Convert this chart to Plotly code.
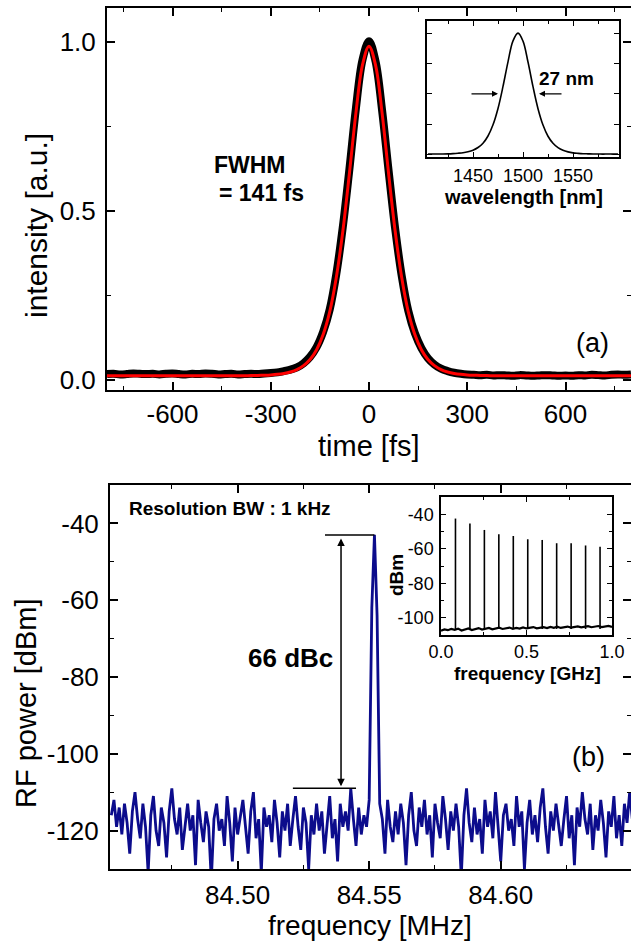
import plotly.graph_objects as go

# ---------------- data: panel (a) ----------------
time_fs = list(range(-800, 801, 20))
ac_measured = [0.017, 0.018, 0.016, 0.017, 0.019, 0.018, 0.017, 0.018, 0.016, 0.018,
               0.019, 0.017, 0.016, 0.018, 0.017, 0.019, 0.018, 0.016, 0.017, 0.018,
               0.016, 0.017, 0.018, 0.017, 0.019, 0.020, 0.022, 0.026, 0.030, 0.037,
               0.049, 0.068, 0.097, 0.142, 0.208, 0.312, 0.452, 0.622, 0.803, 0.946,
               1.002,
               0.942, 0.797, 0.617, 0.446, 0.307, 0.204, 0.138, 0.094, 0.064, 0.045,
               0.033, 0.026, 0.021, 0.018, 0.016, 0.015, 0.014, 0.015, 0.013, 0.014,
               0.013, 0.012, 0.014, 0.013, 0.012, 0.013, 0.014, 0.013, 0.012, 0.013,
               0.012, 0.014, 0.013, 0.015, 0.014, 0.013, 0.015, 0.016, 0.015, 0.016]
ac_fit = [0.012, 0.012, 0.012, 0.012, 0.012, 0.012, 0.012, 0.012, 0.012, 0.012,
          0.012, 0.012, 0.012, 0.012, 0.012, 0.012, 0.012, 0.012, 0.012, 0.012,
          0.012, 0.0124, 0.0126, 0.013, 0.0137, 0.0147, 0.0163, 0.019, 0.0234, 0.0304,
          0.042, 0.060, 0.089, 0.134, 0.201, 0.302, 0.439, 0.609, 0.789, 0.931,
          0.987,
          0.931, 0.789, 0.609, 0.439, 0.302, 0.201, 0.134, 0.089, 0.060, 0.042,
          0.0304, 0.0234, 0.019, 0.0163, 0.0147, 0.0137, 0.013, 0.0126, 0.0124, 0.012,
          0.012, 0.012, 0.012, 0.012, 0.012, 0.012, 0.012, 0.012, 0.012, 0.012,
          0.012, 0.012, 0.012, 0.012, 0.012, 0.012, 0.012, 0.012, 0.012, 0.012]

wavelength_nm = list(range(1405, 1596, 5))
spectrum = [0.004, 0.0045, 0.005, 0.005, 0.006, 0.008, 0.011, 0.015, 0.023, 0.036,
            0.058, 0.094, 0.153, 0.245, 0.380, 0.561, 0.764, 0.936, 1.000, 0.934,
            0.762, 0.559, 0.378, 0.243, 0.151, 0.093, 0.057, 0.035, 0.022, 0.014,
            0.010, 0.007, 0.006, 0.005, 0.005, 0.004, 0.005, 0.004, 0.004]

# tick values / labels, panel (a)
time_ticks = [-600, -300, 0, 300, 600]
time_ticktext = ["-600", "-300", "0", "300", "600"]
time_minor = [-750, -450, -150, 150, 450, 750]
int_ticks = [0.0, 0.5, 1.0]
int_ticktext = ["0.0", "0.5", "1.0"]
int_minor = [0.25, 0.75]
wl_ticks = [1450, 1500, 1550]
wl_ticktext = ["1450", "1500", "1550"]
wl_minor = [1425, 1475, 1525, 1575]
spec_ticks = [0.0, 0.25, 0.5, 0.75, 1.0]

# ---------------- data: panel (b) ----------------
freq_start_mhz = 84.452
freq_step_mhz = 0.001
rf_power_dbm = [
    -116, -112, -119, -114, -121, -113, -118, -126, -115, -110,
    -117, -122, -113, -119, -131, -116, -111, -120, -124, -114,
    -118, -127, -115, -109, -117, -121, -114, -125, -119, -113,
    -120, -116, -129, -112, -118, -123, -115, -119, -133, -117,
    -113, -120, -117, -124, -111, -118, -128, -114, -121, -116,
    -112, -119, -126, -115, -110, -122, -117, -131, -114, -119,
    -116, -123, -112, -118, -127, -115, -120, -113, -124, -117,
    -111, -119, -125, -114, -118, -130, -116, -121, -113, -120,
    -115, -126, -118, -111, -122, -117, -128, -113, -119, -115,
    -120, -109, -117, -124, -114, -121, -116, -119, -112, -62,
    -43, -64, -113, -117, -126, -112, -119, -123, -115, -121,
    -113, -118, -129, -116, -110, -120, -124, -114, -119, -112,
    -121, -116, -127, -113, -118, -122, -111, -117, -125, -115,
    -120, -113, -119, -132, -116, -109, -118, -123, -114, -121,
    -117, -126, -112, -119, -115, -122, -110, -118, -128, -116,
    -113, -120, -117, -124, -111, -119, -115, -130, -118, -112,
    -121, -116, -123, -114, -109, -119, -126, -115, -120, -113,
    -118, -124, -117, -111, -122, -116, -129, -114, -119, -110,
    -117, -121, -113, -125, -116, -120, -112, -118, -127, -115,
    -119, -111, -122, -116, -124, -113, -118, -110, -117]
freq_mhz = [round(freq_start_mhz + freq_step_mhz * i, 4) for i in range(len(rf_power_dbm))]

harmonic_ghz = [0.0846, 0.1691, 0.2537, 0.3382, 0.4228, 0.5073, 0.5919, 0.6764, 0.7610, 0.8455, 0.9301]
harmonic_dbm = [-42.5, -45.3, -49.1, -51.6, -52.6, -54.5, -54.9, -56.8, -56.8, -58.1, -58.9]
floor_ghz = [round(0.02 * i, 2) for i in range(51)]
floor_dbm = [-107.5, -106.8, -107.2, -106.5, -107.0, -106.3, -107.4, -106.9, -106.2, -107.1,
             -106.6, -106.0, -106.8, -106.4, -105.9, -106.7, -106.2, -105.8, -106.5, -106.1,
             -105.7, -106.4, -105.9, -106.3, -105.6, -106.2, -105.8, -105.4, -106.1, -105.7,
             -105.5, -106.0, -105.3, -105.8, -105.2, -105.9, -105.5, -105.1, -105.7, -105.3,
             -105.0, -105.6, -105.2, -104.9, -105.5, -105.1, -104.8, -105.4, -105.0, -104.7,
             -105.3]

# tick values / labels, panel (b)
mhz_ticks = [84.50, 84.55, 84.60]
mhz_ticktext = ["84.50", "84.55", "84.60"]
mhz_minor = [84.475, 84.525, 84.575, 84.625]
dbm_ticks = [-120, -100, -80, -60, -40]
dbm_ticktext = ["-120", "-100", "-80", "-60", "-40"]
dbm_minor = [-130, -110, -90, -70, -50, -30]
ghz_ticks = [0.0, 0.5, 1.0]
ghz_ticktext = ["0.0", "0.5", "1.0"]
ghz_minor = [0.25, 0.75]
inset_dbm_ticks = [-100, -80, -60, -40]
inset_dbm_ticktext = ["-100", "-80", "-60", "-40"]
inset_dbm_minor = [-110, -90, -70, -50, -30]

# ---------------- layout helpers ----------------
W, H = 631, 945
def px(x):
    return x / W
def py(y):
    return 1 - y / H

FONT = "Liberation Sans, Arial, Helvetica, sans-serif"
NAVY = "#0c0c8c"

fig = go.Figure()

# panel (a)
fig.add_trace(go.Scatter(x=time_fs, y=ac_measured, mode="lines", line=dict(color="black", width=8, shape="spline"),
                         xaxis="x", yaxis="y", showlegend=False))
fig.add_trace(go.Scatter(x=time_fs, y=ac_fit, mode="lines", line=dict(color="#ff0000", width=3, shape="spline"),
                         xaxis="x", yaxis="y", showlegend=False))
fig.add_trace(go.Scatter(x=wavelength_nm, y=spectrum, mode="lines", line=dict(color="black", width=1.6, shape="spline"),
                         xaxis="x2", yaxis="y2", showlegend=False))

# panel (b)
fig.add_trace(go.Scatter(x=freq_mhz, y=rf_power_dbm, mode="lines", line=dict(color=NAVY, width=2.8),
                         xaxis="x3", yaxis="y3", showlegend=False))
fig.add_trace(go.Scatter(x=floor_ghz, y=floor_dbm, mode="lines", line=dict(color="black", width=2.2),
                         xaxis="x4", yaxis="y4", showlegend=False))
hx, hy = [], []
for f, p in zip(harmonic_ghz, harmonic_dbm):
    hx += [f, f, None]
    hy += [-106.5, p, None]
fig.add_trace(go.Scatter(x=hx, y=hy, mode="lines", line=dict(color="black", width=1.6),
                         xaxis="x4", yaxis="y4", showlegend=False))
# dummy traces for right-side tick axes
fig.add_trace(go.Scatter(x=[None], y=[None], xaxis="x", yaxis="y5", showlegend=False))
fig.add_trace(go.Scatter(x=[None], y=[None], xaxis="x3", yaxis="y6", showlegend=False))

tickfont_main = dict(family=FONT, size=26, color="black")
tickfont_inset = dict(family=FONT, size=18, color="black")

def minor(vals, ln):
    return dict(tickmode="array", tickvals=vals, ticks="inside", ticklen=ln, tickcolor="black", tickwidth=1.2)

def main_axis(**kw):
    d = dict(showline=True, linecolor="black", linewidth=2, mirror="ticks", ticks="inside",
             ticklen=8, tickwidth=1.5, tickcolor="black", showgrid=False, zeroline=False,
             tickfont=tickfont_main, automargin=False, tickmode="array")
    d.update(kw)
    return d

def inset_axis(**kw):
    d = dict(showline=True, linecolor="black", linewidth=1.5, mirror="ticks", ticks="inside",
             ticklen=5, tickwidth=1, tickcolor="black", showgrid=False, zeroline=False,
             tickfont=tickfont_inset, automargin=False, tickmode="array")
    d.update(kw)
    return d

def right_ticks(over, anchor, rng, vals, mvals):
    return dict(overlaying=over, anchor=anchor, side="right", range=rng, tickmode="array", tickvals=vals,
                ticks="inside", ticklen=8, tickwidth=1.5, tickcolor="black", showticklabels=False,
                showline=False, showgrid=False, zeroline=False, minor=minor(mvals, 4))

fig.update_layout(
    width=W, height=H, margin=dict(l=0, r=0, t=0, b=0),
    paper_bgcolor="white", plot_bgcolor="white",
    font=dict(family=FONT, color="black"),
    xaxis=main_axis(domain=[px(107), 1.0], range=[-800, 800], tickvals=time_ticks, ticktext=time_ticktext,
                    minor=minor(time_minor, 4), anchor="y", ticklabelstandoff=0),
    yaxis=main_axis(domain=[py(390), py(8)], range=[-0.03, 1.1], tickvals=int_ticks, ticktext=int_ticktext,
                    minor=minor(int_minor, 4), anchor="x", mirror=False, ticklabelstandoff=4),
    yaxis5=right_ticks("y", "x", [-0.03, 1.1], int_ticks, int_minor),
    xaxis2=inset_axis(domain=[px(427), px(619)], range=[1404, 1596], tickvals=wl_ticks, ticktext=wl_ticktext,
                      minor=minor(wl_minor, 3), anchor="y2", ticklabelstandoff=2),
    yaxis2=inset_axis(domain=[py(157), py(21)], range=[-0.02, 1.1], tickvals=spec_ticks,
                      showticklabels=False, anchor="x2"),
    xaxis3=main_axis(domain=[px(110), 1.0], range=[84.4515, 84.6495], tickvals=mhz_ticks, ticktext=mhz_ticktext,
                     minor=minor(mhz_minor, 4), anchor="y3", ticklabelstandoff=2),
    yaxis3=main_axis(domain=[py(869), py(485)], range=[-130, -30], tickvals=dbm_ticks, ticktext=dbm_ticktext,
                     minor=minor(dbm_minor, 4), anchor="x3", mirror=False, ticklabelstandoff=4),
    yaxis6=right_ticks("y3", "x3", [-130, -30], dbm_ticks, dbm_minor),
    xaxis4=inset_axis(domain=[px(441), px(612)], range=[0, 1.0], tickvals=ghz_ticks, ticktext=ghz_ticktext,
                      minor=minor(ghz_minor, 3), anchor="y4", ticklabelstandoff=0),
    yaxis4=inset_axis(domain=[py(635), py(497)], range=[-110, -30], tickvals=inset_dbm_ticks,
                      ticktext=inset_dbm_ticktext, minor=minor(inset_dbm_minor, 3), anchor="x4",
                      ticklabelstandoff=2),
)

def txt(x, y, text, size, bold=False, angle=0, xanchor="center"):
    fig.add_annotation(x=px(x), y=py(y), xref="paper", yref="paper", text=f"<b>{text}</b>" if bold else text,
                       showarrow=False, textangle=angle, xanchor=xanchor, yanchor="middle",
                       font=dict(family=FONT, size=size, color="black"))

# axis titles
txt(37, 226, "intensity [a.u.]", 30, angle=-90)
txt(369, 446, "time [fs]", 29)
txt(26, 703, "RF power [dBm]", 29, angle=-90)
txt(370, 925, "frequency [MHz]", 28)
txt(523, 197, "wavelength [nm]", 20, bold=True)
txt(527, 673, "frequency [GHz]", 19, bold=True)
txt(396, 575, "dBm", 19, bold=True, angle=-90)

# in-plot labels
txt(212, 165, "FWHM", 23, bold=True, xanchor="left")
txt(217, 193, "= 141 fs", 23, bold=True, xanchor="left")
txt(566, 78, "27 nm", 19, bold=True)
txt(592, 343, "(a)", 27)
txt(127, 508, "Resolution BW : 1 kHz", 19, bold=True, xanchor="left")
txt(290, 658, "66 dBc", 26, bold=True)
txt(588, 757, "(b)", 27)

# FWHM arrows on the spectrum inset
fig.add_annotation(x=1475, y=0.5, ax=1447, ay=0.5, xref="x2", yref="y2", axref="x2", ayref="y2",
                   showarrow=True, arrowhead=2, arrowsize=1, arrowwidth=1.2, arrowcolor="black", text="")
fig.add_annotation(x=1516, y=0.5, ax=1540, ay=0.5, xref="x2", yref="y2", axref="x2", ayref="y2",
                   showarrow=True, arrowhead=2, arrowsize=1, arrowwidth=1.2, arrowcolor="black", text="")

# 66 dBc markers
fig.add_shape(type="line", xref="x3", yref="y3", x0=84.5332, x1=84.5520, y0=-43, y1=-43,
              line=dict(color="black", width=1.5))
fig.add_shape(type="line", xref="x3", yref="y3", x0=84.5210, x1=84.5450, y0=-109, y1=-109,
              line=dict(color="black", width=1.5))
fig.add_annotation(x=84.5393, y=-109, ax=84.5393, ay=-43, xref="x3", yref="y3", axref="x3", ayref="y3",
                   showarrow=True, arrowhead=2, startarrowhead=2, arrowside="end+start", arrowsize=1,
                   arrowwidth=1.5, arrowcolor="black", text="", standoff=2, startstandoff=2)

fig.write_html("out.html", config={"displayModeBar": False},
               post_script="document.body.style.margin='0';")
